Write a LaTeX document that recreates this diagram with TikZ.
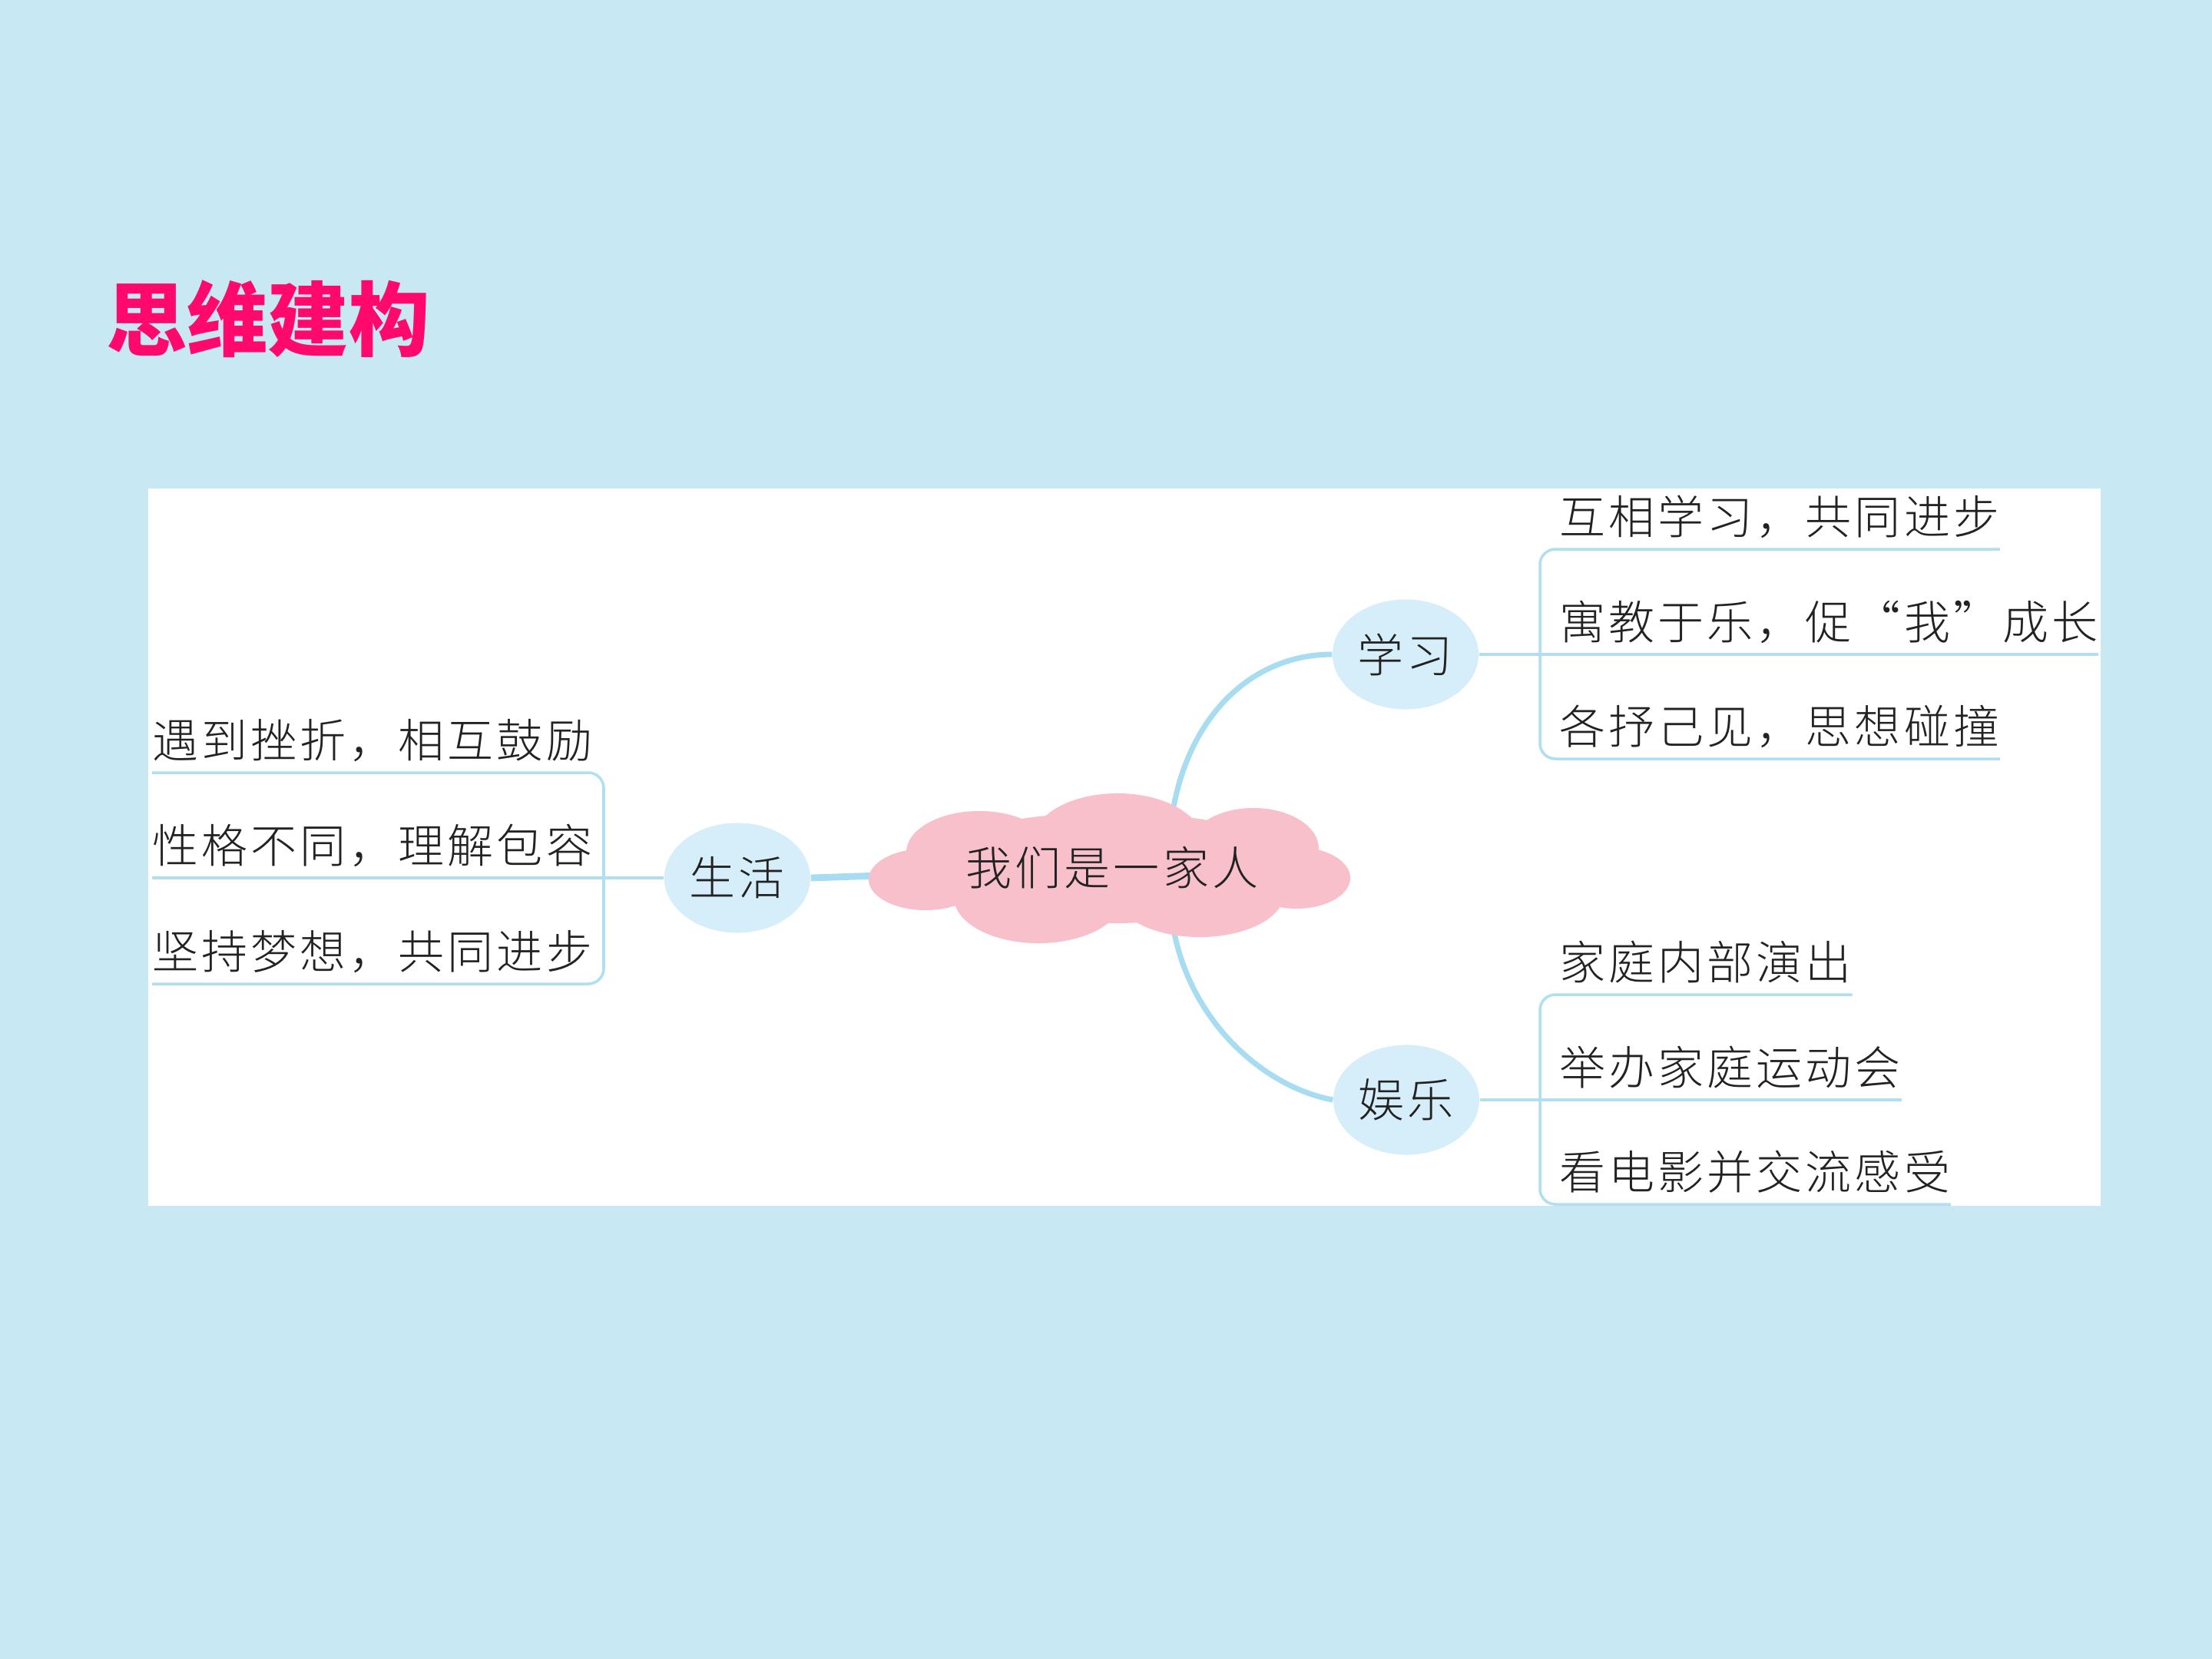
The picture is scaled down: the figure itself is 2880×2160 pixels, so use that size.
\documentclass[tikz,border=0pt]{standalone}
\usepackage{fontspec}
\usetikzlibrary{shapes.geometric}
\IfFontExistsTF{Noto Sans CJK SC Light}
  {\newfontfamily\cjk{Noto Sans CJK SC Light}[LetterSpace=6.7]}
  {\newfontfamily\cjk{Noto Sans CJK SC}[LetterSpace=6.7]}
\newfontfamily\cjkt{Noto Sans CJK SC}
\definecolor{bgblue}{HTML}{C8E8F3}
\definecolor{titlec}{HTML}{FF0A6C}
\definecolor{txt}{HTML}{222222}
\definecolor{topicfill}{HTML}{D6EEF9}
\definecolor{cloudc}{HTML}{F7C0CB}
\definecolor{twigc}{HTML}{B0DFF0}
\definecolor{limbc}{HTML}{A8DCF0}
\pgfdeclarelayer{bg}
\pgfdeclarelayer{lines}
\pgfsetlayers{bg,lines,main}
\begin{document}
\begin{tikzpicture}[x=0.01cm,y=-0.01cm,
  itemtext/.style={font=\cjk\fontsize{17.07pt}{20pt}\selectfont, text=txt, inner xsep=0pt, inner ysep=0.19cm, text depth=0pt, anchor=south west},
  topic/.style={ellipse, fill=topicfill, minimum width=1.9cm, minimum height=1.43cm, inner sep=0pt, font=\cjk\fontsize{17.07pt}{20pt}\selectfont, text=txt},
  twig/.style={draw=twigc, line width=1pt, rounded corners=0.2cm},
  limb/.style={draw=limbc, line width=2pt},
  trunk/.style={draw=limbc, line width=2.5pt},
  titletext/.style={font=\cjkt\bfseries\fontsize{30pt}{34pt}\selectfont, text=titlec, inner sep=0pt}
]
\useasboundingbox (0,0) rectangle (2880,2160);
\begin{pgfonlayer}{bg}
\fill[bgblue] (0,0) rectangle (2880,2160);
\fill[white] (193,636) rectangle (2735,1570);
\end{pgfonlayer}

% title
\node[titletext] (title) at (349,415) {思维建构};

% cloud
\fill[cloudc] (1445,1130) ellipse [x radius=2.5cm, y radius=0.72cm];
\fill[cloudc] (1455,1095) ellipse [x radius=1.1cm, y radius=0.62cm];
\fill[cloudc] (1275,1110) ellipse [x radius=0.95cm, y radius=0.54cm];
\fill[cloudc] (1632,1105) ellipse [x radius=0.85cm, y radius=0.53cm];
\fill[cloudc] (1205,1145) ellipse [x radius=0.74cm, y radius=0.4cm];
\fill[cloudc] (1688,1143) ellipse [x radius=0.7cm, y radius=0.4cm];
\fill[cloudc] (1352,1168) ellipse [x radius=1.1cm, y radius=0.6cm];
\fill[cloudc] (1562,1163) ellipse [x radius=1.1cm, y radius=0.57cm];
\node[font=\cjk\fontsize{17.07pt}{20pt}\selectfont, text=txt, inner sep=0pt] (core) at (1448,1130) {我们是一家人};

% topics
\node[topic] (shenghuo) at (960,1143) {生活};
\node[topic] (xuexi) at (1830,852) {学习};
\node[topic] (yule) at (1831,1432) {娱乐};

% items
\node[itemtext] (L1) at (198,1006) {遇到挫折，相互鼓励};
\node[itemtext] (L2) at (198,1143) {性格不同，理解包容};
\node[itemtext] (L3) at (198,1281) {坚持梦想，共同进步};
\node[itemtext] (R1) at (2030,715) {互相学习，共同进步};
\node[itemtext] (R2) at (2030,852) {寓教于乐，促“我”成长};
\node[itemtext] (R3) at (2030,988) {各抒己见，思想碰撞};
\node[itemtext] (E1) at (2030,1295) {家庭内部演出};
\node[itemtext] (E2) at (2030,1432) {举办家庭运动会};
\node[itemtext] (E3) at (2030,1568) {看电影并交流感受};

\coordinate (lbk) at (786,0);
\coordinate (rbk) at (2005,0);

\begin{pgfonlayer}{lines}
\draw[trunk] (shenghuo.east) -- (core.center);
\draw[limb] ([xshift=0.8cm,yshift=0.8cm]core.center) .. controls (1552,925) and (1635,852) .. (xuexi.west);
\draw[limb] ([xshift=0.8cm,yshift=-0.8cm]core.center) .. controls (1550,1330) and (1645,1415) .. (yule.west);
% left bracket
\draw[twig] (L1.south west) -- (L1.south west -| lbk) -- (L3.south west -| lbk) -- (L3.south west);
\draw[twig] (shenghuo.west) -- (L2.south west);
% right brackets
\draw[twig] (R1.south east) -- (R1.south west -| rbk) -- (R3.south west -| rbk) -- (R3.south east);
\draw[twig] (xuexi.east) -- (R2.south east);
\draw[twig] (E1.south east) -- (E1.south west -| rbk) -- (E3.south west -| rbk) -- (E3.south east);
\draw[twig] (yule.east) -- (E2.south east);
\end{pgfonlayer}
\end{tikzpicture}
\end{document}
